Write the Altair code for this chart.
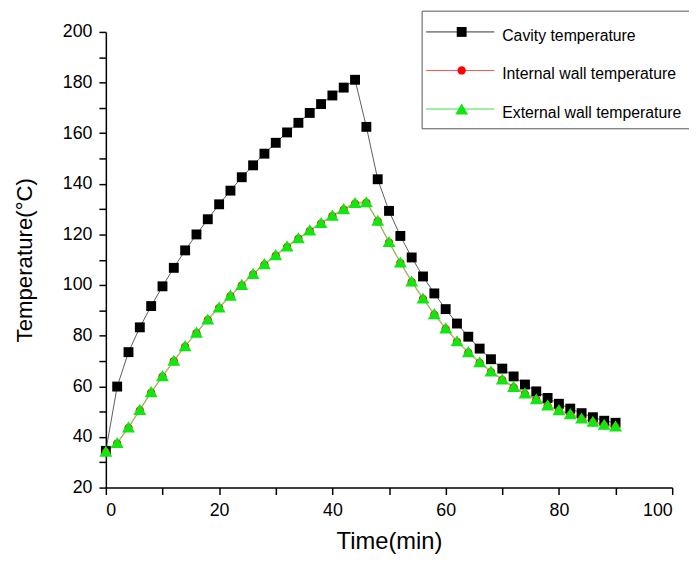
import altair as alt
import pandas as pd

time_min = list(range(0, 92, 2))

cavity = [34.5, 59.9, 73.5, 83.3, 91.7, 99.5, 106.8, 113.7, 120.0, 126.0,
          131.9, 137.3, 142.6, 147.3, 151.9, 156.2, 160.3, 164.1, 168.0, 171.5,
          174.9, 178.0, 181.1, 162.5, 141.8, 129.3, 119.4, 110.9, 103.4, 96.7,
          90.5, 84.8, 79.6, 74.9, 70.7, 67.0, 63.9, 60.7, 58.0, 55.4,
          53.1, 51.2, 49.4, 47.8, 46.4, 45.6]

internal = [34.0, 37.4, 43.6, 50.5, 57.5, 63.8, 69.9, 75.7, 81.0, 86.2,
            91.0, 95.6, 99.9, 104.2, 108.1, 111.6, 115.1, 118.3, 121.4, 124.3,
            127.2, 129.8, 132.2, 132.5, 125.2, 116.8, 108.7, 101.2, 94.5, 88.3,
            82.7, 77.6, 73.3, 69.3, 65.7, 62.5, 59.6, 57.0, 54.7, 52.3,
            50.4, 48.8, 47.1, 45.8, 44.6, 44.0]

external = [34.4, 37.8, 44.0, 50.9, 57.9, 64.2, 70.3, 76.1, 81.4, 86.6,
            91.4, 96.0, 100.3, 104.6, 108.5, 112.0, 115.5, 118.7, 121.8, 124.7,
            127.6, 130.2, 132.6, 132.9, 125.6, 117.2, 109.1, 101.6, 94.9, 88.7,
            83.1, 78.0, 73.7, 69.7, 66.1, 62.9, 60.0, 57.4, 55.1, 52.7,
            50.8, 49.2, 47.5, 46.2, 45.0, 44.4]

series_names = ["Cavity temperature", "Internal wall temperature", "External wall temperature"]
line_colors = ["#333333", "#ff5050", "#40dd40"]
marker_colors = ["#000000", "#ff0000", "#11e611"]
marker_shapes = ["square", "circle", "triangle-up"]
marker_sizes = [100, 70, 170]
legend_rows = [0, 1, 2]

x_ticks = [0, 10, 20, 30, 40, 50, 60, 70, 80, 90, 100]
y_ticks = [20, 30, 40, 50, 60, 70, 80, 90, 100, 110, 120, 130, 140, 150, 160, 170, 180, 190, 200]

rows = []
for name, vals in zip(series_names, [cavity, internal, external]):
    for t, v in zip(time_min, vals):
        rows.append({"time": t, "value": v, "series": name})
df = pd.DataFrame(rows)
legend_df = pd.DataFrame({"series": series_names, "row": legend_rows})
box_df = pd.DataFrame({"box": [0]})

xscale = alt.Scale(domain=[0, 100], nice=False, zero=False)
yscale = alt.Scale(domain=[20, 200], nice=False, zero=False)
even20 = "datum.value % 20 == 0 ? datum.label : ''"

x_enc = alt.X("time:Q", scale=xscale,
              axis=alt.Axis(values=x_ticks, labelExpr=even20, title="Time(min)", tickSize=7,
                            labelPadding=7, titleFontSize=24, titlePadding=11, orient="bottom"))
y_enc = alt.Y("value:Q", scale=yscale,
              axis=alt.Axis(values=y_ticks, labelExpr=even20, title="Temperature(°C)", tickSize=7,
                            labelPadding=7, titleFontSize=22.5, titlePadding=26, orient="left"))

stroke_enc = alt.Stroke("series:N", scale=alt.Scale(domain=series_names, range=line_colors), legend=None)

base = alt.Chart(df)

lines = base.mark_line(strokeWidth=1, opacity=0.8).encode(
    x=x_enc, y=y_enc, detail="series:N", stroke=stroke_enc,
)

point_layers = []
for name, col, shp, sz in zip(series_names, marker_colors, marker_shapes, marker_sizes):
    point_layers.append(
        base.transform_filter(alt.datum.series == name).mark_point(
            filled=True, opacity=1, shape=shp, size=sz, color=col
        ).encode(x=x_enc, y=y_enc)
    )

main = alt.layer(lines, *point_layers)

# legend drawn from its own small table
row_y = alt.Y("row:Q", scale=alt.Scale(domain=[0, 2], range=[0, 78]), axis=None)
leg_base = alt.Chart(legend_df)

leg_box = alt.Chart(box_df).mark_rect(fill="white", stroke="#555555", strokeWidth=1).encode(
    x=alt.value(320), x2=alt.value(610), y=alt.value(-21), y2=alt.value(98),
)
leg_lines = leg_base.mark_rule(strokeWidth=1).encode(
    x=alt.value(324), x2=alt.value(393), y=row_y, stroke=stroke_enc,
)
leg_marks = []
for name, col, shp, sz in zip(series_names, marker_colors, marker_shapes, marker_sizes):
    leg_marks.append(
        leg_base.transform_filter(alt.datum.series == name).mark_point(
            filled=True, opacity=1, shape=shp, size=sz, color=col
        ).encode(x=alt.value(360), y=row_y)
    )
leg_text = leg_base.mark_text(align="left", baseline="middle", dy=4, fontSize=16,
                              font="Liberation Sans", color="black").encode(
    x=alt.value(401), y=row_y, text="series:N",
)
legend_group = alt.layer(leg_box, leg_lines, *leg_marks, leg_text)

chart = alt.layer(main, legend_group).resolve_scale(y="independent").properties(
    width=573, height=461,
    padding={"left": 99, "top": 21, "right": 17, "bottom": 64},
    autosize=alt.AutoSizeParams(type="none"),
).configure_view(stroke=None).configure_axis(
    grid=False, domainColor="black", domainWidth=1.5, tickColor="black", tickWidth=1.5,
    labelFont="Liberation Sans", labelFontSize=18, labelColor="black",
    titleFont="Liberation Sans", titleFontWeight="normal", titleColor="black",
)

chart.save("out.html", embed_options={"renderer": "svg", "actions": False})
